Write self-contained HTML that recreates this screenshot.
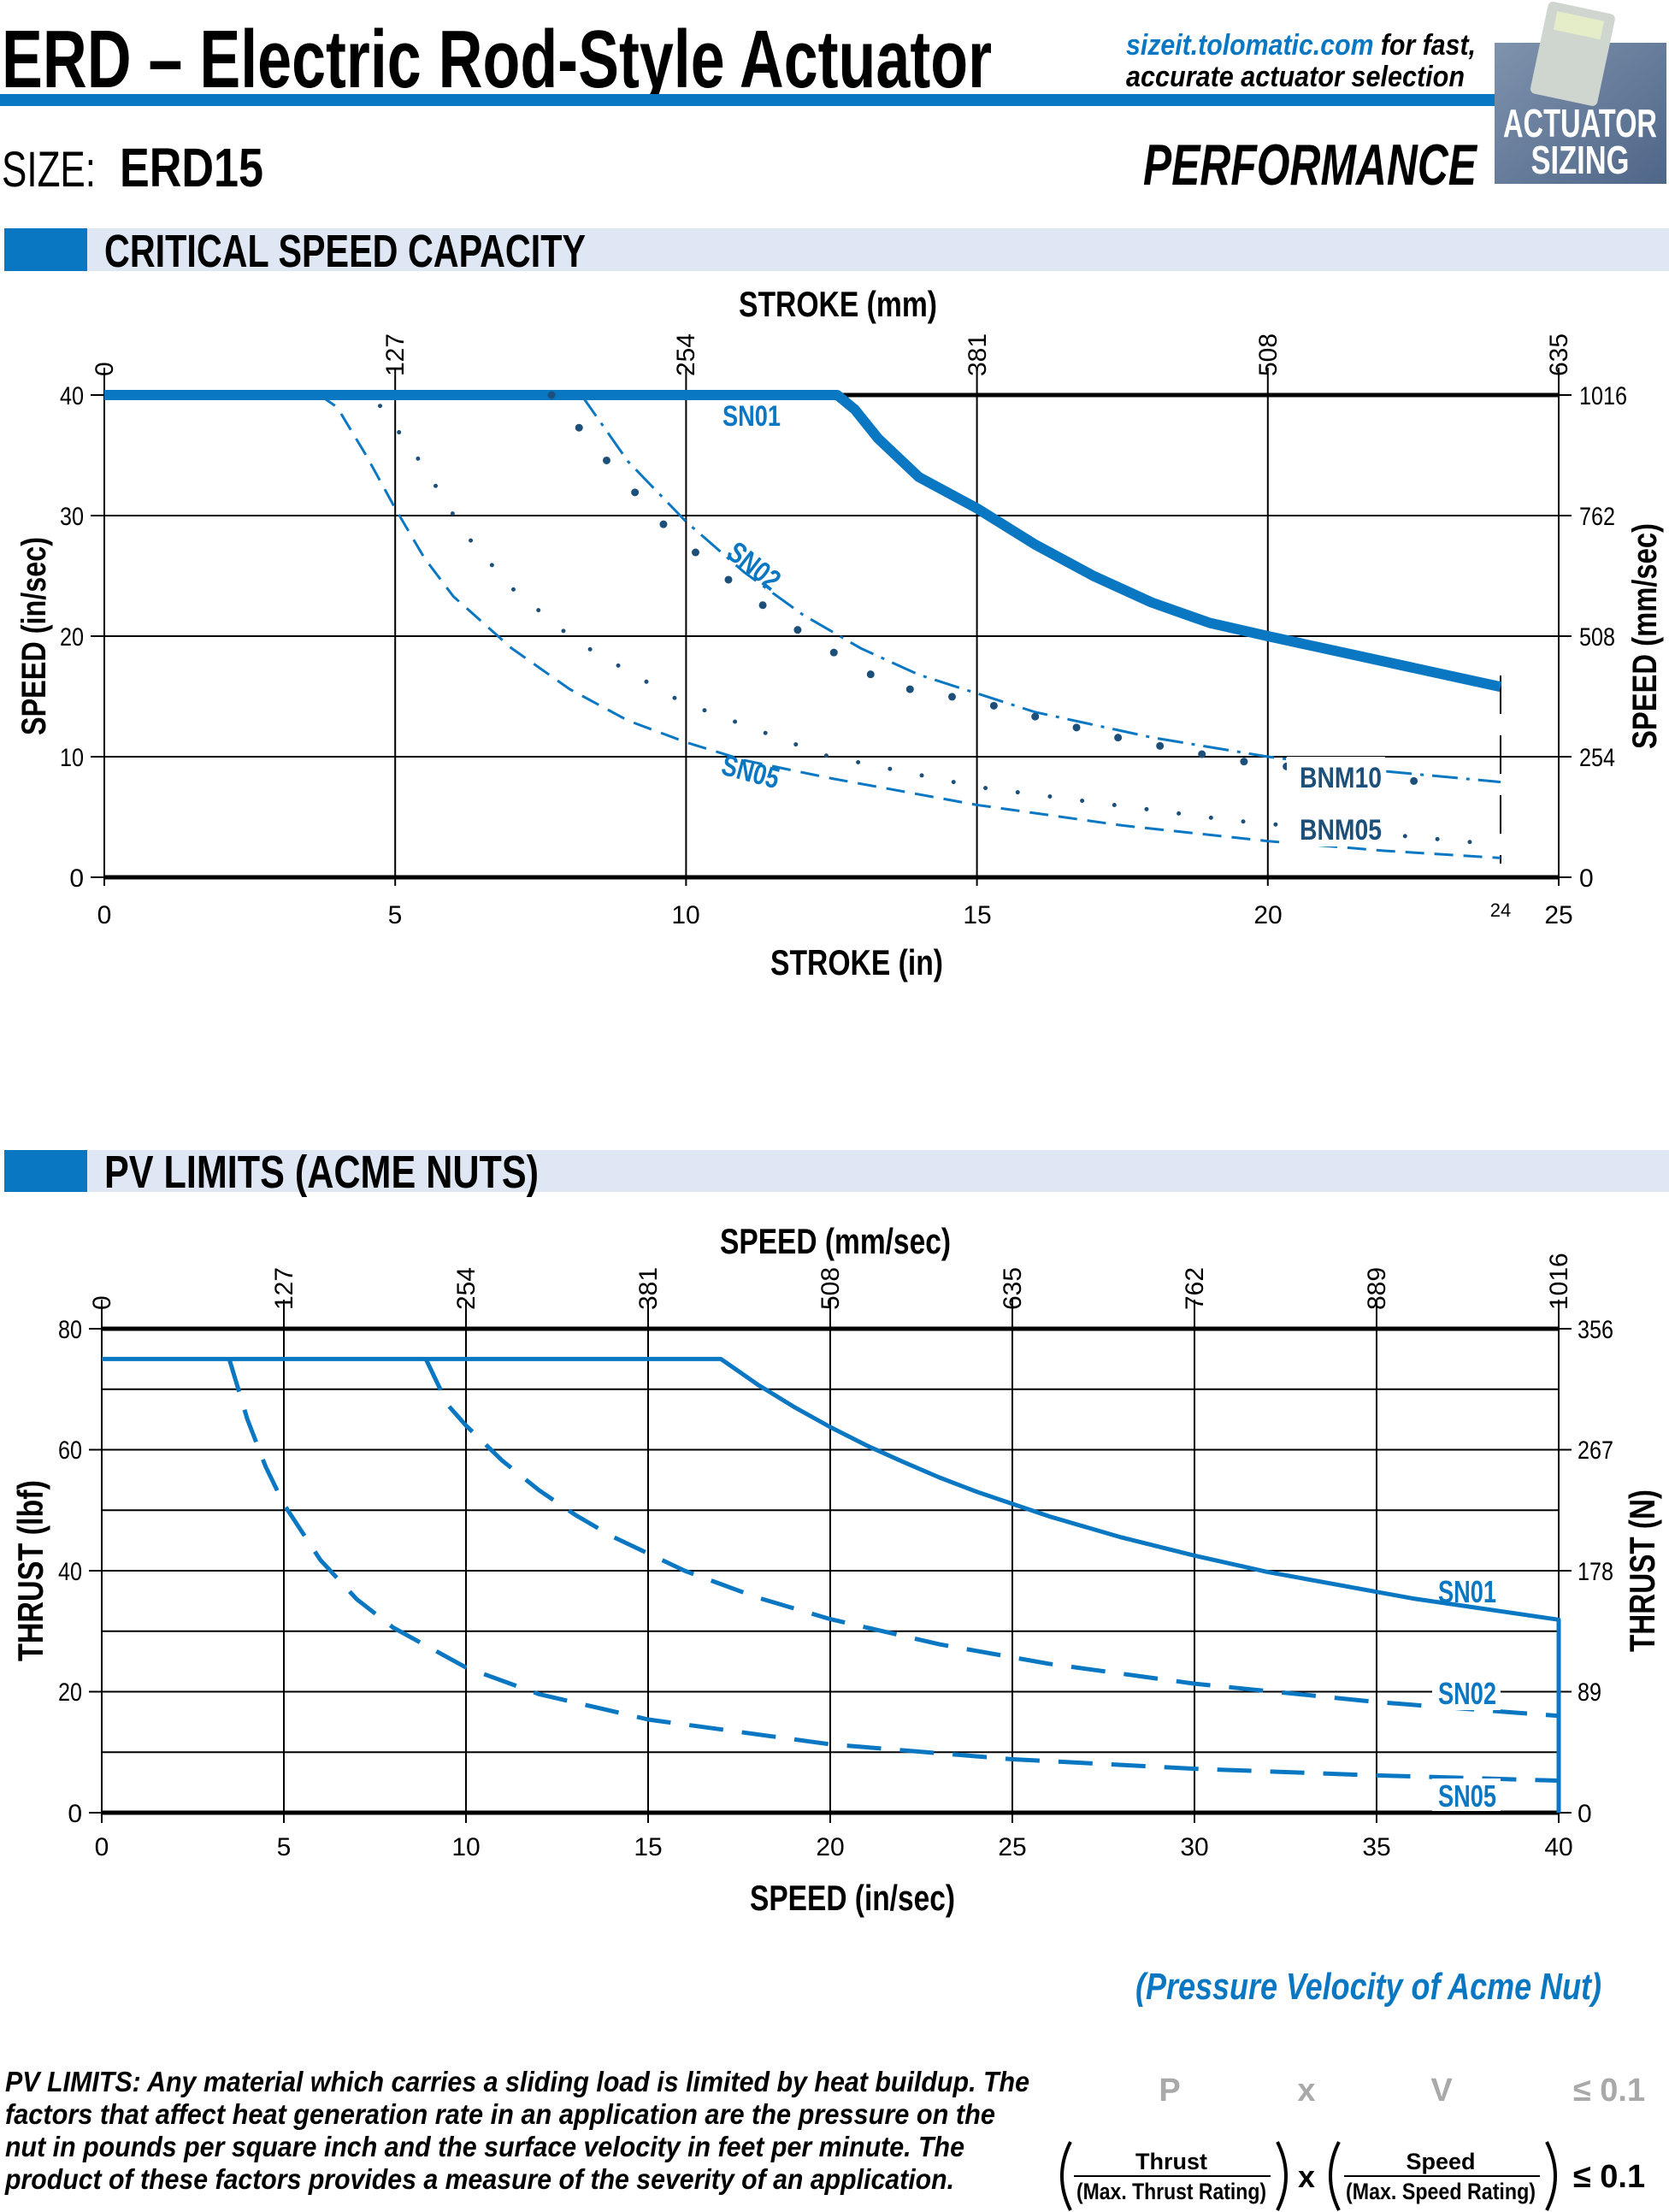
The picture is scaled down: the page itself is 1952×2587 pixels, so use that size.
<!DOCTYPE html>
<html><head><meta charset="utf-8"><style>
html,body{margin:0;padding:0;background:#fff}
svg{display:block}
text{font-family:"Liberation Sans Narrow","Liberation Sans",sans-serif}
</style></head><body>
<svg width="1952" height="2587" viewBox="0 0 1952 2587" xmlns="http://www.w3.org/2000/svg">
<defs><linearGradient id="ic" x1="0" y1="0" x2="1" y2="1"><stop offset="0" stop-color="#7f93ad"/><stop offset="1" stop-color="#4e6688"/></linearGradient></defs>
<text x="2" y="102" font-size="96" font-weight="bold" textLength="1158" lengthAdjust="spacingAndGlyphs">ERD – Electric Rod-Style Actuator</text>
<rect x="0" y="110" width="1748" height="14" fill="#0a77c2"/>
<text x="1317" y="64" font-size="34" font-weight="bold" font-style="italic" textLength="409" lengthAdjust="spacingAndGlyphs"><tspan fill="#0a77c2">sizeit.tolomatic.com</tspan> for fast,</text>
<text x="1317" y="101" font-size="34" font-weight="bold" font-style="italic" textLength="396" lengthAdjust="spacingAndGlyphs">accurate actuator selection</text>
<rect x="1748" y="50" width="201" height="165" fill="url(#ic)"/>
<rect x="1800" y="8" width="80" height="110" rx="6" fill="#cfd6d0" transform="rotate(12 1840 60)"/>
<rect x="1812" y="18" width="56" height="22" fill="#e4edc8" transform="rotate(12 1840 60)"/>
<text x="1848" y="160" font-size="46" font-weight="bold" fill="#fff" text-anchor="middle" textLength="180" lengthAdjust="spacingAndGlyphs">ACTUATOR</text>
<text x="1848" y="203" font-size="46" font-weight="bold" fill="#fff" text-anchor="middle" textLength="115" lengthAdjust="spacingAndGlyphs">SIZING</text>
<text x="2" y="218" font-size="58" textLength="110" lengthAdjust="spacingAndGlyphs">SIZE:</text>
<text x="140" y="218" font-size="64" font-weight="bold" textLength="168" lengthAdjust="spacingAndGlyphs">ERD15</text>
<text x="1337" y="216" font-size="68" font-weight="bold" font-style="italic" textLength="390" lengthAdjust="spacingAndGlyphs">PERFORMANCE</text>

<rect x="102" y="267" width="1850" height="50" fill="#dfe7f4"/>
<rect x="5" y="267" width="97" height="50" fill="#0a77c2"/>
<text x="122" y="312" font-size="54" font-weight="bold" textLength="563" lengthAdjust="spacingAndGlyphs">CRITICAL SPEED CAPACITY</text>

<text x="980" y="370" font-size="42" font-weight="bold" text-anchor="middle" textLength="232" lengthAdjust="spacingAndGlyphs">STROKE (mm)</text>
<g stroke="#000" stroke-width="2">
<line x1="462.2" y1="430" x2="462.2" y2="1036"/><line x1="802.4" y1="430" x2="802.4" y2="1036"/><line x1="1142.6" y1="430" x2="1142.6" y2="1036"/><line x1="1482.8" y1="430" x2="1482.8" y2="1036"/>
<line x1="122" y1="603" x2="1823" y2="603"/><line x1="122" y1="744" x2="1823" y2="744"/><line x1="122" y1="885" x2="1823" y2="885"/>
<line x1="122" y1="430" x2="122" y2="1036"/><line x1="1823" y1="430" x2="1823" y2="1036"/>
<line x1="106" y1="462" x2="122" y2="462"/><line x1="106" y1="603" x2="122" y2="603"/><line x1="106" y1="744" x2="122" y2="744"/><line x1="106" y1="885" x2="122" y2="885"/><line x1="106" y1="1026" x2="122" y2="1026"/>
<line x1="1823" y1="462" x2="1838" y2="462"/><line x1="1823" y1="603" x2="1838" y2="603"/><line x1="1823" y1="744" x2="1838" y2="744"/><line x1="1823" y1="885" x2="1838" y2="885"/><line x1="1823" y1="1026" x2="1838" y2="1026"/>
</g>
<line x1="122" y1="462" x2="1823" y2="462" stroke="#000" stroke-width="5"/>
<line x1="122" y1="1026" x2="1823" y2="1026" stroke="#000" stroke-width="5"/>
<line x1="1755" y1="790" x2="1755" y2="1010" stroke="#000" stroke-width="2" stroke-dasharray="45 25"/>
<g font-size="30" fill="#000">
<text x="98" y="473" text-anchor="end" textLength="28" lengthAdjust="spacingAndGlyphs">40</text><text x="98" y="614" text-anchor="end" textLength="28" lengthAdjust="spacingAndGlyphs">30</text><text x="98" y="755" text-anchor="end" textLength="28" lengthAdjust="spacingAndGlyphs">20</text><text x="98" y="896" text-anchor="end" textLength="28" lengthAdjust="spacingAndGlyphs">10</text><text x="98" y="1037" text-anchor="end">0</text>
<text x="1847" y="473" textLength="56" lengthAdjust="spacingAndGlyphs">1016</text><text x="1847" y="614" textLength="42" lengthAdjust="spacingAndGlyphs">762</text><text x="1847" y="755" textLength="42" lengthAdjust="spacingAndGlyphs">508</text><text x="1847" y="896" textLength="42" lengthAdjust="spacingAndGlyphs">254</text><text x="1847" y="1037">0</text>
<text x="122" y="1080" text-anchor="middle">0</text><text x="462" y="1080" text-anchor="middle">5</text><text x="802" y="1080" text-anchor="middle">10</text><text x="1143" y="1080" text-anchor="middle">15</text><text x="1483" y="1080" text-anchor="middle">20</text><text x="1755" y="1072" text-anchor="middle" font-size="22">24</text><text x="1823" y="1080" text-anchor="middle">25</text>
<text transform="translate(132 440) rotate(-90)">0</text><text transform="translate(472 440) rotate(-90)">127</text><text transform="translate(812 440) rotate(-90)">254</text><text transform="translate(1153 440) rotate(-90)">381</text><text transform="translate(1493 440) rotate(-90)">508</text><text transform="translate(1833 440) rotate(-90)">635</text>
</g>
<text transform="translate(53 744) rotate(-90)" font-size="40" font-weight="bold" text-anchor="middle" font-family="Liberation Sans" textLength="232" lengthAdjust="spacingAndGlyphs">SPEED (in/sec)</text>
<text transform="translate(1937 744) rotate(-90)" font-size="40" font-weight="bold" text-anchor="middle" font-family="Liberation Sans" textLength="264" lengthAdjust="spacingAndGlyphs">SPEED (mm/sec)</text>
<text x="1002" y="1140" font-size="42" font-weight="bold" text-anchor="middle" textLength="202" lengthAdjust="spacingAndGlyphs">STROKE (in)</text>
<g fill="none" stroke="#0a77c2" stroke-linejoin="round">
<polyline stroke-width="12" points="122,462 979.3,462 999.7,478.9 1027,512.8 1074.6,557.9 1142.6,594.5 1210.6,636.8 1278.7,673.5 1346.7,704.5 1414.8,728.5 1482.8,744 1618.9,773.6 1755,803.2"/>
<polyline stroke-width="3" stroke-dasharray="30 10 4 10" points="680,462 734.4,539.6 802.4,610.1 870.4,669.3 938.5,718.6 1006.5,758.1 1074.6,789.1 1210.6,832.8 1346.7,862.4 1482.8,885 1618.9,901.9 1755,914.6"/>
<polyline stroke-width="3" stroke-dasharray="22 12" points="373.7,462 394.2,476.1 428.2,532.5 462.2,594.5 496.2,652.4 530.2,697.5 598.3,758.1 666.3,806 734.4,842.7 802.4,868.1 870.4,889.2 972.5,910.4 1142.6,941.4 1312.7,965.4 1482.8,983.7 1618.9,995 1755,1003.4"/>
</g>
<g fill="none" stroke="#1c4f79" stroke-linecap="round">
<polyline stroke-width="5" stroke-dasharray="0 38" points="444.5,474.7 496.2,546.6 543.8,624.2 598.3,687.6 673.1,749.6 795.6,820.1 965.7,883.6 1142.6,920.3 1442,959.7 1755,988"/>
<polyline stroke-width="9" stroke-dasharray="0 50" points="645,462 714,543.8 782,619.9 863.6,687.6 945.3,745.4 1040.5,801.8 1142.6,820.1 1292.3,859.6 1442,889.2 1700.5,918.8"/>
</g>
<rect x="1505" y="885" width="115" height="40" fill="#fff"/>
<rect x="1505" y="950" width="115" height="40" fill="#fff"/>
<g font-weight="bold" font-size="34">
<text x="845" y="498" fill="#0a77c2" textLength="68" lengthAdjust="spacingAndGlyphs">SN01</text>
<text transform="translate(848 650) rotate(38)" fill="#0a77c2" textLength="68" lengthAdjust="spacingAndGlyphs">SN02</text>
<text transform="translate(842 905) rotate(15)" fill="#0a77c2" textLength="68" lengthAdjust="spacingAndGlyphs">SN05</text>
<text x="1520" y="921" fill="#1c4f79" textLength="96" lengthAdjust="spacingAndGlyphs">BNM10</text>
<text x="1520" y="982" fill="#1c4f79" textLength="96" lengthAdjust="spacingAndGlyphs">BNM05</text>
</g>

<rect x="102" y="1345" width="1850" height="49" fill="#dfe7f4"/>
<rect x="5" y="1345" width="97" height="49" fill="#0a77c2"/>
<text x="122" y="1389" font-size="54" font-weight="bold" textLength="508" lengthAdjust="spacingAndGlyphs">PV LIMITS (ACME NUTS)</text>
<text x="977" y="1466" font-size="42" font-weight="bold" text-anchor="middle" textLength="270" lengthAdjust="spacingAndGlyphs">SPEED (mm/sec)</text>
<g stroke="#000" stroke-width="2">
<line x1="332" y1="1520" x2="332" y2="2132"/><line x1="545" y1="1520" x2="545" y2="2132"/><line x1="758" y1="1520" x2="758" y2="2132"/><line x1="971" y1="1520" x2="971" y2="2132"/><line x1="1184" y1="1520" x2="1184" y2="2132"/><line x1="1397" y1="1520" x2="1397" y2="2132"/><line x1="1610" y1="1520" x2="1610" y2="2132"/>
<line x1="119" y1="1520" x2="119" y2="2132"/><line x1="1823" y1="1520" x2="1823" y2="2132"/>
<line x1="119" y1="1624.8" x2="1823" y2="1624.8"/><line x1="119" y1="1695.5" x2="1823" y2="1695.5"/><line x1="119" y1="1766.3" x2="1823" y2="1766.3"/><line x1="119" y1="1837" x2="1823" y2="1837"/><line x1="119" y1="1907.8" x2="1823" y2="1907.8"/><line x1="119" y1="1978.5" x2="1823" y2="1978.5"/><line x1="119" y1="2049.3" x2="1823" y2="2049.3"/>
<line x1="104" y1="1554" x2="119" y2="1554"/><line x1="104" y1="1695.5" x2="119" y2="1695.5"/><line x1="104" y1="1837" x2="119" y2="1837"/><line x1="104" y1="1978.5" x2="119" y2="1978.5"/><line x1="104" y1="2120" x2="119" y2="2120"/>
<line x1="1823" y1="1554" x2="1838" y2="1554"/><line x1="1823" y1="1695.5" x2="1838" y2="1695.5"/><line x1="1823" y1="1837" x2="1838" y2="1837"/><line x1="1823" y1="1978.5" x2="1838" y2="1978.5"/><line x1="1823" y1="2120" x2="1838" y2="2120"/>
</g>
<line x1="119" y1="1554" x2="1823" y2="1554" stroke="#000" stroke-width="5"/>
<line x1="119" y1="2120" x2="1823" y2="2120" stroke="#000" stroke-width="5"/>
<g font-size="30">
<text x="96" y="1565" text-anchor="end" textLength="28" lengthAdjust="spacingAndGlyphs">80</text><text x="96" y="1706" text-anchor="end" textLength="28" lengthAdjust="spacingAndGlyphs">60</text><text x="96" y="1848" text-anchor="end" textLength="28" lengthAdjust="spacingAndGlyphs">40</text><text x="96" y="1989" text-anchor="end" textLength="28" lengthAdjust="spacingAndGlyphs">20</text><text x="96" y="2131" text-anchor="end">0</text>
<text x="1845" y="1565" textLength="42" lengthAdjust="spacingAndGlyphs">356</text><text x="1845" y="1706" textLength="42" lengthAdjust="spacingAndGlyphs">267</text><text x="1845" y="1848" textLength="42" lengthAdjust="spacingAndGlyphs">178</text><text x="1845" y="1989" textLength="28" lengthAdjust="spacingAndGlyphs">89</text><text x="1845" y="2131">0</text>
<text x="119" y="2170" text-anchor="middle">0</text><text x="332" y="2170" text-anchor="middle">5</text><text x="545" y="2170" text-anchor="middle">10</text><text x="758" y="2170" text-anchor="middle">15</text><text x="971" y="2170" text-anchor="middle">20</text><text x="1184" y="2170" text-anchor="middle">25</text><text x="1397" y="2170" text-anchor="middle">30</text><text x="1610" y="2170" text-anchor="middle">35</text><text x="1823" y="2170" text-anchor="middle">40</text>
<text transform="translate(129 1532) rotate(-90)">0</text><text transform="translate(342 1532) rotate(-90)">127</text><text transform="translate(555 1532) rotate(-90)">254</text><text transform="translate(768 1532) rotate(-90)">381</text><text transform="translate(981 1532) rotate(-90)">508</text><text transform="translate(1194 1532) rotate(-90)">635</text><text transform="translate(1407 1532) rotate(-90)">762</text><text transform="translate(1620 1532) rotate(-90)">889</text><text transform="translate(1833 1532) rotate(-90)">1016</text>
</g>
<text transform="translate(50 1837) rotate(-90)" font-size="42" font-weight="bold" text-anchor="middle" textLength="212" lengthAdjust="spacingAndGlyphs">THRUST (lbf)</text>
<text transform="translate(1935 1837) rotate(-90)" font-size="42" font-weight="bold" text-anchor="middle" textLength="190" lengthAdjust="spacingAndGlyphs">THRUST (N)</text>
<text x="997" y="2234" font-size="42" font-weight="bold" text-anchor="middle" textLength="240" lengthAdjust="spacingAndGlyphs">SPEED (in/sec)</text>
<g fill="none" stroke="#0a77c2" stroke-linejoin="round">
<polyline stroke-width="5" points="119,1589.4 843.2,1589.4 864.5,1604.2 885.8,1619.1 928.4,1645.3 971,1669 1013.6,1690.5 1056.2,1709.7 1098.8,1728 1141.4,1744.3 1226.6,1773.3 1311.8,1798.1 1397,1819.3 1482.2,1838.4 1652.6,1869.5 1823,1894.3 1823,2120"/>
<polyline stroke-width="5" stroke-dasharray="40 22" points="498.1,1589.4 523.7,1643.1 545,1667.2 587.6,1708.4 630.2,1742.7 672.8,1771.7 715.4,1796.6 800.6,1837 885.8,1868.4 971,1893.6 1098.8,1923.1 1226.6,1945.8 1397,1969.1 1610,1990.6 1823,2006.8"/>
<polyline stroke-width="5" stroke-dasharray="40 22" points="268.1,1589.4 289.4,1660.1 310.7,1715.3 332,1759.2 374.6,1824.3 417.2,1870.3 459.8,1903.5 545,1950.2 630.2,1981.3 758,2011 971,2040 1184,2057.5 1397,2068.6 1610,2076.4 1823,2082.5"/>
</g>
<rect x="1675" y="1960" width="80" height="40" fill="#fff"/>
<rect x="1675" y="2080" width="80" height="38" fill="#fff"/>
<g font-weight="bold" font-size="36" fill="#0a77c2">
<text x="1682" y="1874" textLength="68" lengthAdjust="spacingAndGlyphs">SN01</text>
<text x="1682" y="1993" textLength="68" lengthAdjust="spacingAndGlyphs">SN02</text>
<text x="1682" y="2113" textLength="68" lengthAdjust="spacingAndGlyphs">SN05</text>
</g>
<text x="1328" y="2338" font-size="44" font-weight="bold" font-style="italic" fill="#0a77c2" textLength="545" lengthAdjust="spacingAndGlyphs">(Pressure Velocity of Acme Nut)</text>
<g font-size="33" font-weight="bold" font-style="italic">
<text x="6" y="2446" textLength="1198" lengthAdjust="spacingAndGlyphs">PV LIMITS: Any material which carries a sliding load is limited by heat buildup. The</text>
<text x="6" y="2484" textLength="1158" lengthAdjust="spacingAndGlyphs">factors that affect heat generation rate in an application are the pressure on the</text>
<text x="6" y="2522" textLength="1122" lengthAdjust="spacingAndGlyphs">nut in pounds per square inch and the surface velocity in feet per minute. The</text>
<text x="6" y="2560" textLength="1110" lengthAdjust="spacingAndGlyphs">product of these factors provides a measure of the severity of an application.</text>
</g>
<g font-size="38" font-weight="bold" fill="#a9a9a9" text-anchor="middle">
<text x="1368" y="2457">P</text><text x="1528" y="2457">x</text><text x="1686" y="2457">V</text><text x="1882" y="2457">≤ 0.1</text>
</g>
<g font-weight="bold">
<text x="1370" y="2537" font-size="27" text-anchor="middle">Thrust</text>
<line x1="1256" y1="2545" x2="1486" y2="2545" stroke="#000" stroke-width="2"/>
<text x="1370" y="2572" font-size="27" text-anchor="middle" textLength="222" lengthAdjust="spacingAndGlyphs">(Max. Thrust Rating)</text>
<text x="1685" y="2537" font-size="27" text-anchor="middle">Speed</text>
<line x1="1572" y1="2545" x2="1801" y2="2545" stroke="#000" stroke-width="2"/>
<text x="1685" y="2572" font-size="27" text-anchor="middle" textLength="222" lengthAdjust="spacingAndGlyphs">(Max. Speed Rating)</text>
<text x="1528" y="2558" font-size="36" text-anchor="middle">x</text>
<text x="1882" y="2558" font-size="38" text-anchor="middle">≤ 0.1</text>
<path d="M1252 2505 Q1232 2545 1252 2585 M1494 2505 Q1514 2545 1494 2585 M1566 2505 Q1546 2545 1566 2585 M1809 2505 Q1829 2545 1809 2585" fill="none" stroke="#000" stroke-width="4"/>
</g>
</svg>
</body></html>
